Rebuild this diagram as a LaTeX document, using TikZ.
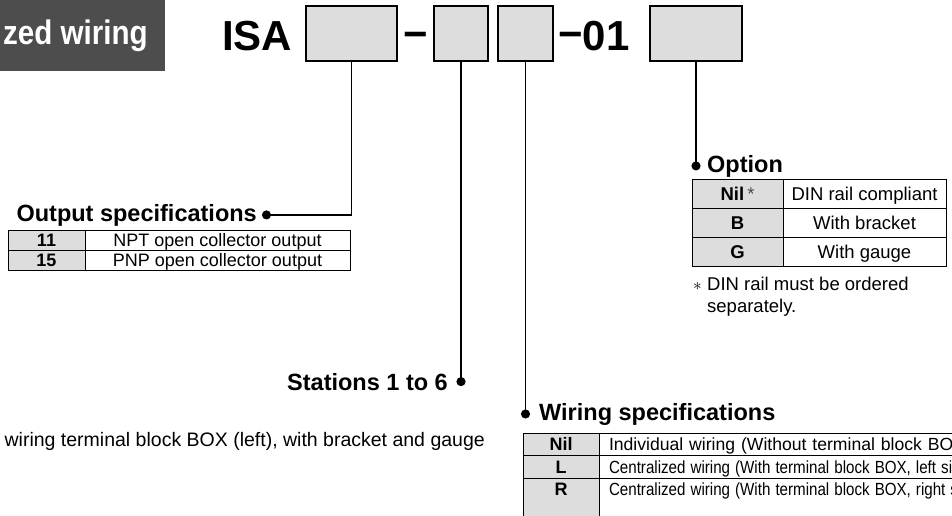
\documentclass[tikz,border=0pt]{standalone}
\usepackage{fontspec}
\setmainfont{Liberation Sans}
\usepackage{graphicx}
\usepackage{xcolor}
\usepackage{tikz}
\usetikzlibrary{positioning,calc}
\usetikzlibrary{arrows.meta,shapes}
\definecolor{slotgray}{HTML}{DDDDDD}
\definecolor{bandgray}{HTML}{4D4D4D}
\newcommand{\pxsize}[1]{\fontsize{#1}{#1}\selectfont}
\tikzstyle{slot} = [rectangle,draw=black,line width=1.8pt,fill=slotgray,minimum height=55,inner sep=0pt]
\tikzstyle{part} = [font=\bfseries\pxsize{42},inner sep=0pt]
\tikzstyle{head} = [font=\bfseries\pxsize{23.5},inner sep=0pt]
\tikzstyle{cell} = [rectangle,draw=black,line width=0.9pt,inner sep=0pt,outer sep=0pt,text height=13.2pt,text depth=0pt]
\tikzstyle{code} = [cell,fill=slotgray,font=\bfseries\pxsize{18.5}]
\tikzstyle{desc} = [cell,font=\pxsize{18.5}]
\tikzstyle{ocode} = [code,minimum width=77,minimum height=20,font=\bfseries\pxsize{18},text height=12.9pt]
\tikzstyle{odesc} = [desc,minimum width=265,minimum height=20,font=\pxsize{18},text height=12.9pt]
\tikzstyle{wcode} = [code,minimum width=76,minimum height=22.5,font=\bfseries\pxsize{18}]
\tikzstyle{wdesc} = [desc,minimum height=22.5,text width=420,align=left,inner xsep=10,font=\pxsize{17.6},text height=12.6pt]
\tikzstyle{lastrow} = [minimum height=45,text height=17.5pt,text depth=27.5pt]
\tikzstyle{note} = [font=\pxsize{18.5},inner sep=0pt]
\tikzstyle{lead} = [line width=1.6pt,-{Circle[length=9pt]}]
\newcommand{\minus}{\raisebox{1.5pt}{−}}

\begin{document}
\begin{tikzpicture}[x=1pt,y=-1pt]
    \useasboundingbox (0,0) rectangle (952,515);
    \clip (0,0) rectangle (952,515);
    % banner
    \node[fill=bandgray,minimum width=165,minimum height=71,inner sep=0pt,anchor=north west] (band) at (0,0) {};
    \node[head,font=\bfseries\pxsize{34},text=white,anchor=base east] (bandtxt) at (148,44) {\scalebox{0.87}[1]{zed wiring}};
    % model number
    \node[part,anchor=base west] (isa) at (222,50) {ISA};
    \node[slot,minimum width=91] (b1) at (351.5,33.5) {};
    \node[part,anchor=base] (dash) at (415.5,50) {\minus};
    \node[slot,minimum width=54] (b2) at (461,33.5) {};
    \node[slot,minimum width=55] (b3) at (525.5,33.5) {};
    \node[part,anchor=base west] (suffix) at (558,50) {\minus01};
    \node[slot,minimum width=92] (b4) at (696,33.5) {};
    % headings and leads
    \node[head,anchor=base east] (hout) at (257,221) {Output specifications};
    \coordinate (dout) at ($(hout.east)+(5,0)$);
    \draw[lead] (b1) |- (dout);
    \node[head,anchor=base east] (hst) at (448,390) {Stations 1 to 6};
    \coordinate (dst) at (b2.south |- hst.east);
    \draw[lead] (b2) -- ($(dst)+(0,4.5)$);
    \node[head,anchor=base west] (hwi) at (539,420) {Wiring specifications};
    \coordinate (dwi) at (b3.south |- hwi.west);
    \draw[lead] (b3) -- ($(dwi)+(0,4.5)$);
    \node[head,anchor=base west] (hopt) at (707,172) {Option};
    \coordinate (dopt) at (b4.south |- hopt.west);
    \draw[lead] (b4) -- ($(dopt)+(0,4.5)$);
    % output table
    \node[ocode,anchor=north west] (o11) at (8,230) {11};
    \node[odesc,right=0pt of o11] (o11t) {NPT open collector output};
    \node[ocode,below=0pt of o11] (o15) {15};
    \node[odesc,right=0pt of o15] (o15t) {PNP open collector output};
    % option table
    \node[code,minimum width=91,minimum height=29.3,anchor=north west] (pnil) at (692,179) {Nil\,{\mdseries\color{black!70}*}};
    \node[desc,minimum width=163,minimum height=29.3,right=0pt of pnil] (pnilt) {DIN rail compliant};
    \node[code,minimum width=91,minimum height=29.3,below=0pt of pnil] (pb) {B};
    \node[desc,minimum width=163,minimum height=29.3,right=0pt of pb] (pbt) {With bracket};
    \node[code,minimum width=91,minimum height=29.3,below=0pt of pb] (pg) {G};
    \node[desc,minimum width=163,minimum height=29.3,right=0pt of pg] (pgt) {With gauge};
    \node[note,anchor=base west] (fn1) at (707,290) {DIN rail must be ordered};
    \node[note,anchor=base east] (fnstar) at ($(fn1.base west)+(-5,0)$) {$\ast$};
    \node[note,anchor=base west] (fn2) at ($(fn1.base west)+(0,22)$) {separately.};
    % wiring table
    \node[wcode,anchor=north west] (wnil) at (523,433) {Nil};
    \node[wdesc,right=0pt of wnil] (wnilt) {Individual wiring (Without terminal block BO};
    \node[wcode,below=0pt of wnil] (wl) {L};
    \node[wdesc,right=0pt of wl] (wlt) {\scalebox{0.86}[1]{Centralized wiring (With terminal block BOX, left si}};
    \node[wcode,lastrow,below=0pt of wl] (wr) {R};
    \node[wdesc,lastrow,right=0pt of wr] (wrt) {\scalebox{0.86}[1]{Centralized wiring (With terminal block BOX, right s}};
    % note at left
    \node[note,font=\pxsize{19.5},anchor=base east] (boxnote) at (485,446) {wiring terminal block BOX (left), with bracket and gauge};
\end{tikzpicture}
\end{document}
